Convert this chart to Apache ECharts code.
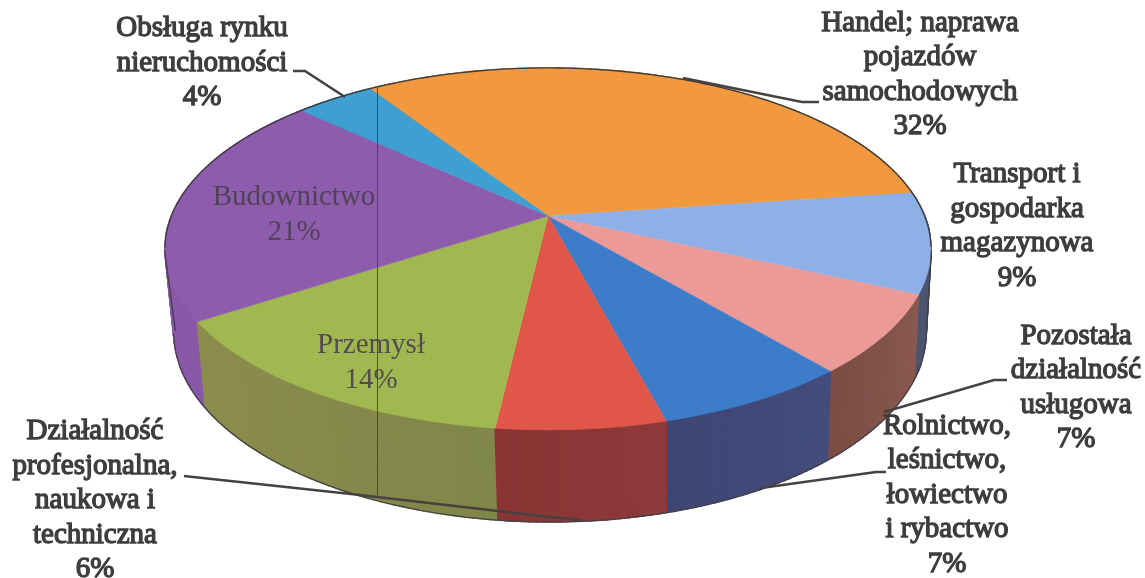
<!DOCTYPE html>
<html><head><meta charset="utf-8">
<style>html,body{margin:0;padding:0;background:#fff}#c{width:1145px;height:578px}</style>
<script src="https://cdn.jsdelivr.net/npm/echarts@6/dist/echarts.min.js"></script>
</head><body><div id="c"></div>
<script>
// ---- data ----
const categories = [
  'Handel; naprawa\npojazdów\nsamochodowych',
  'Transport i\ngospodarka\nmagazynowa',
  'Pozostała\ndziałalność\nusługowa',
  'Rolnictwo,\nleśnictwo,\nłowiectwo\ni rybactwo',
  'Działalność\nprofesjonalna,\nnaukowa i\ntechniczna',
  'Przemysł',
  'Budownictwo',
  'Obsługa rynku\nnieruchomości'
];
const values = [32, 9, 7, 7, 6, 14, 21, 4];

// ---- styles and layout ----
const topColors  = ['#f2993f','#8fb0e6','#ec9a98','#3d7cc9','#e0574a','#a0b84f','#8d5cad','#3f9fd2'];
const wallColors = [
  ['#a56a30','#a56a30'],['#4c5470','#4c5470'],['#8a5a50','#7b4d45'],['#434d7c','#3e4674'],
  ['#8e3a3a','#8a3434'],['#80874a','#8c8d4c'],['#8a58a8','#8d5cad'],['#2f6f95','#2f6f95']
];
const labelCenters = [[920,75],[1017,226.5],[1076,388],[947,495],[95,500.5],[371,362.5],[294,214.5],[202,63]];
const inside = [false,false,false,false,false,true,true,false];
const leaders = [
  [[819,102],[802,102],[683,78]],
  null,
  [[1007,380],[994,380],[884,412]],
  [[886,472],[876,472],[761,488]],
  [[184,476],[351,494],[550,517],[582,520]],
  null, null,
  [[293,71],[305,71],[345,97]]
];
const startAngle = -33;
const upper = {cx:548, cy:216, a:376.6, b:175};
const lower = {cx:550, cy:297, a:370, b:184};
const persp = 0.182;

function project(p, deg){
  const t = deg*Math.PI/180, X = Math.sin(t), Y = -Math.cos(t), w = 1 - persp*Y;
  return [p.cx + p.a*X/w, p.cy + p.b*Y/w, Y];
}
function arc(p, a0, a1){
  const out = [], n = Math.max(2, Math.ceil((a1-a0)));
  for(let i=0;i<=n;i++) out.push(project(p, a0+(a1-a0)*i/n));
  return out;
}
const total = values.reduce((s,v)=>s+v,0);

function renderItem(params, api){
  const i = params.dataIndex, v = api.value(1);
  let before = 0; for(let k=0;k<i;k++) before += values[k];
  const a0 = startAngle + before/total*360, a1 = a0 + v/total*360;
  const up = arc(upper,a0,a1), lo = arc(lower,a0,a1);
  const xy = p => [p[0],p[1]];
  const children = [];
  for(let k=0;k<up.length-1;k++){
    const c = echarts.color.lerp(k/(up.length-2),wallColors[i]);
    children.push({type:'polygon',z2:10+up[k][2]*5,
      shape:{points:[xy(up[k]),xy(up[k+1]),xy(lo[k+1]),xy(lo[k])]},
      style:{fill:c,stroke:c,lineWidth:1.6}});
  }
  children.push({type:'polygon',z2:20,
    shape:{points:[[upper.cx,upper.cy]].concat(up.map(xy))},
    style:{fill:topColors[i],stroke:topColors[i],lineWidth:.5}});
  // outer silhouette only: back of the upper rim, front of the lower rim
  const backRim = up.filter(p=>p[2]<0.18).map(xy);
  if(backRim.length>1) children.push({type:'polyline',z2:21,shape:{points:backRim},
    style:{fill:null,stroke:'#3c3c3c',lineWidth:1.3}});
  const frontRim = lo.filter(p=>p[2]>0.18).map(xy);
  if(frontRim.length>1) children.push({type:'polyline',z2:21,shape:{points:frontRim},
    style:{fill:null,stroke:'#44404a',lineWidth:1.2}});
  if(leaders[i]) children.push({type:'polyline',z2:30,shape:{points:leaders[i]},
    style:{fill:null,stroke:'#45423f',lineWidth:2.6}});
  const ins = inside[i];
  children.push({type:'text',z2:40,style:{
    x:labelCenters[i][0],y:labelCenters[i][1],
    text:categories[i]+'\n'+v+'%',align:'center',verticalAlign:'middle',
    fontFamily:'"Liberation Serif"',fontSize:29,lineHeight:ins?35:34.5,
    fill:ins?'#4a3f50':'#3f3c3d',
    stroke:ins?null:'#3f3c3d',lineWidth:ins?0:1.3,opacity:ins?.9:1}});
  return {type:'group',children};
}

const chart = echarts.init(document.getElementById('c'),null,{renderer:'canvas'});
chart.setOption({
  animation:false,
  backgroundColor:'#ffffff',
  series:[{
    type:'custom',coordinateSystem:'none',
    renderItem,
    data:values.map((v,i)=>[i,v]),
    silent:true
  }],
  graphic:[{type:'line',z:5,shape:{x1:377.5,y1:88,x2:377.5,y2:497},
    style:{stroke:'#4a4240',lineWidth:1,opacity:.9}},
    {type:'line',z:5,shape:{x1:164.5,y1:250,x2:175.5,y2:331},style:{stroke:'#3c3c3c',lineWidth:1.2}},
    {type:'line',z:5,shape:{x1:931.5,y1:250,x2:926.5,y2:331},style:{stroke:'#3c3c3c',lineWidth:1.2}}]
});
</script></body></html>
